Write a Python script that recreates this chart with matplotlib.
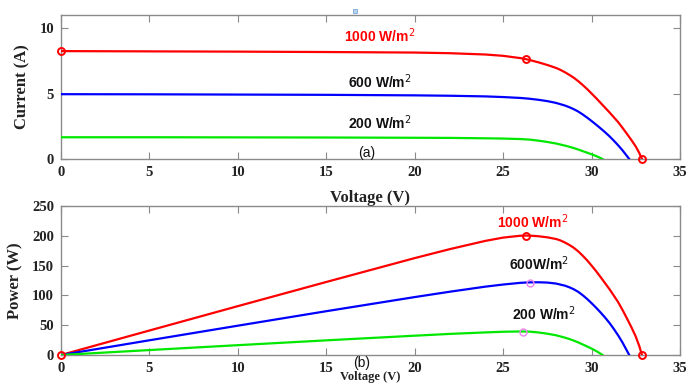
import numpy as np
import matplotlib
matplotlib.use("Agg")
import matplotlib.pyplot as plt

# ---- PV module I-V data at three irradiance levels ----
v_1000 = [0, 5, 10, 15, 20, 22, 24, 25, 26, 26.3, 26.5, 27, 27.5, 28, 28.25,
          28.5, 28.75, 29, 29.25, 29.5, 29.75, 30, 30.25, 30.5, 31, 31.25,
          31.5, 31.75, 32, 32.25, 32.5, 32.7, 32.85]
i_1000 = [8.24, 8.22, 8.20, 8.17, 8.13, 8.08, 7.98, 7.88, 7.70, 7.62, 7.56,
          7.38, 7.18, 6.95, 6.80, 6.62, 6.42, 6.20, 5.94, 5.65, 5.34, 5.00,
          4.66, 4.30, 3.58, 3.20, 2.82, 2.38, 1.92, 1.45, 0.95, 0.45, 0.0]

v_600 = [0, 5, 10, 15, 20, 22, 24, 25, 26, 26.5, 27, 27.5, 28, 28.5, 28.75,
         29, 29.25, 29.5, 29.75, 30, 30.25, 30.5, 30.75, 31, 31.25, 31.5,
         31.75, 32.13]
i_600 = [4.95, 4.94, 4.92, 4.90, 4.86, 4.83, 4.78, 4.73, 4.66, 4.60, 4.52,
         4.42, 4.28, 4.08, 3.95, 3.80, 3.62, 3.40, 3.16, 2.90, 2.63, 2.35,
         2.06, 1.75, 1.41, 1.05, 0.66, 0.0]

v_200 = [0, 5, 10, 15, 20, 22, 24, 25, 26, 26.5, 27, 27.5, 28, 28.5, 28.75,
         29, 29.25, 29.5, 29.75, 30, 30.3, 30.62]
i_200 = [1.66, 1.66, 1.65, 1.64, 1.62, 1.61, 1.58, 1.56, 1.52, 1.48, 1.40,
         1.30, 1.18, 1.02, 0.93, 0.83, 0.72, 0.60, 0.48, 0.36, 0.20, 0.0]

# Operating points marked on the curves
mpp_v = [26.3, 26.54, 26.1]      # maximum power point voltages (1000, 600, 200)
mpp_p = [200.0, 121.3, 39.1]     # maximum power (W)
isc_1000 = 8.24
mpp_i_1000 = 7.62
voc_1000 = 32.85

series_labels = ["1000 W/m$^2$", "600 W/m$^2$", "200 W/m$^2$"]
power_labels = ["1000 W/m$^2$", "600W/m$^2$", "200 W/m$^2$"]
colors = ["#ff0000", "#0000ff", "#00e800"]

x_ticks = [0, 5, 10, 15, 20, 25, 30, 35]
i_ticks = [0, 5, 10]
p_ticks = [0, 50, 100, 150, 200, 250]

serif = "Liberation Serif"
sans = "Liberation Sans"

fig = plt.figure(figsize=(6.98, 3.83), dpi=100)
ax1 = fig.add_axes([0.0874, 0.5849, 0.8868, 0.376])
ax2 = fig.add_axes([0.0874, 0.0731, 0.8868, 0.389])


def style_axes(ax):
    for s in ax.spines.values():
        s.set_color("#8a8a8a")
        s.set_linewidth(1.0)
    ax.tick_params(direction="in", top=True, right=True, length=5,
                   width=0.8, color="#8a8a8a", pad=5)
    for lab in ax.get_xticklabels() + ax.get_yticklabels():
        lab.set_fontfamily(serif)
        lab.set_fontweight("bold")
        lab.set_fontsize(10.5)
        lab.set_color("#222222")


# ---- (a) I-V characteristics ----
curves = [(v_1000, i_1000), (v_600, i_600), (v_200, i_200)]
for (v, i), c in zip(curves, colors):
    ax1.plot(v, i, color=c, lw=1.6, zorder=3, solid_joinstyle="round")
ax1.plot([0, mpp_v[0], voc_1000], [isc_1000, mpp_i_1000, 0], "o", ms=5,
         mfc="none", mec="#ff0000", mew=1.4, zorder=4, clip_on=False)
ax1.plot([16.6], [11.3], "s", ms=3, mfc="#b8d4ee", mec="#7aa6d6", mew=0.6,
         clip_on=False)

ax1.set_xlim(0, 35)
ax1.set_ylim(0, 11)
ax1.set_xticks(x_ticks)
ax1.set_yticks(i_ticks)
style_axes(ax1)
ax1.set_xlabel("Voltage (V)", fontfamily=serif, fontweight="bold", fontsize=12,
               color="#222222")
ax1.xaxis.set_label_coords(0.5, -0.215)
ax1.set_ylabel("Current (A)", fontfamily=serif, fontweight="bold", fontsize=12,
               color="#222222")
ax1.yaxis.set_label_coords(-0.05, 0.5)

iv_label_pos = [(18.0, 9.4), (18.0, 5.9), (18.0, 2.8)]
for (x, y), t, c in zip(iv_label_pos, series_labels,
                        ["#ff0000", "#111111", "#111111"]):
    ax1.text(x, y, t, color=c, fontfamily=sans, fontweight="bold", fontsize=10,
             ha="center", va="center")
ax1.text(17.3, 0.45, "(a)", fontfamily=sans, fontsize=10, ha="center",
         va="center", color="#111111")

# ---- (b) P-V characteristics ----
for (v, i), c in zip(curves, colors):
    p = np.asarray(v) * np.asarray(i)
    ax2.plot(v, p, color=c, lw=1.6, zorder=3, solid_joinstyle="round")
ax2.plot([0, mpp_v[0], voc_1000], [0, mpp_p[0], 0], "o", ms=5,
         mfc="none", mec="#ff0000", mew=1.4, zorder=4, clip_on=False)
ax2.plot(mpp_v[1:], mpp_p[1:], "o", ms=5, mfc="none", mec="#ee82ee",
         mew=1.0, zorder=4)

ax2.set_xlim(0, 35)
ax2.set_ylim(0, 250)
ax2.set_xticks(x_ticks)
ax2.set_yticks(p_ticks)
style_axes(ax2)
ax2.set_xlabel("Voltage (V)", fontfamily=serif, fontweight="bold", fontsize=9,
               color="#222222", va="bottom")
ax2.xaxis.set_label_coords(0.5, -0.186)
ax2.set_ylabel("Power (W)", fontfamily=serif, fontweight="bold", fontsize=12,
               color="#222222")
ax2.yaxis.set_label_coords(-0.061, 0.5)

pv_label_pos = [(26.65, 223), (27.05, 154), (27.3, 70)]
for (x, y), t, c in zip(pv_label_pos, power_labels,
                        ["#ff0000", "#111111", "#111111"]):
    ax2.text(x, y, t, color=c, fontfamily=sans, fontweight="bold", fontsize=10,
             ha="center", va="center")
ax2.text(17.0, -13, "(b)", fontfamily=sans, fontsize=10, ha="center",
         va="center", color="#111111", clip_on=False)

fig.savefig("out.png", dpi=100)
